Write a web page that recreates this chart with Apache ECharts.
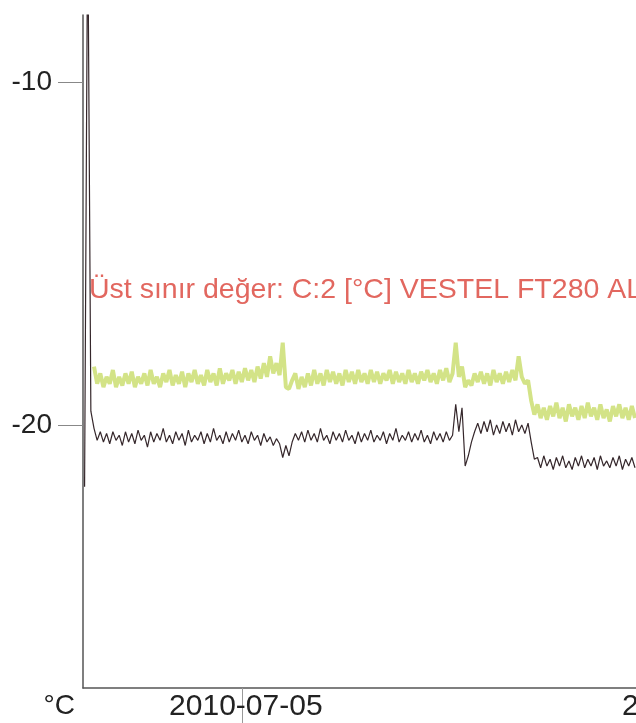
<!DOCTYPE html>
<html>
<head>
<meta charset="utf-8">
<script src="https://cdn.jsdelivr.net/npm/echarts@6/dist/echarts.min.js"></script>
<style>
html, body { margin: 0; padding: 0; background: #fff; overflow: hidden; }
#main { width: 636px; height: 723px; }
</style>
</head>
<body>
<div id="main"></div>
<script>
// logger samples, one every 10 minutes from 2010-07-04 15:40
var startTime = new Date(2010, 6, 4, 15, 40).getTime();
var stepMs = 10 * 60 * 1000;
var dateTicks = [new Date(2010, 6, 5).getTime(), new Date(2010, 6, 6).getTime()];
var yTicks = [-20, -10];
var limitText = 'Üst sınır değer: C:2 [°C] VESTEL FT280 AL';

var darkValues = [
  -21.8, -5.0, -19.6,
  -20.1, -20.45, -20.2, -20.5, -20.25, -20.55, -20.2, -20.45, -20.3, -20.6, -20.2, -20.5,
  -20.25, -20.55, -20.15, -20.45, -20.3, -20.65, -20.2, -20.5, -20.25, -20.45, -20.1, -20.5,
  -20.3, -20.55, -20.2, -20.45, -20.25, -20.6, -20.15, -20.5, -20.3, -20.45, -20.2, -20.55,
  -20.25, -20.5, -20.1, -20.45, -20.3, -20.55, -20.2, -20.5, -20.25, -20.45, -20.15, -20.5,
  -20.3, -20.55, -20.2, -20.45, -20.3, -20.6, -20.25, -20.5, -20.35, -20.6, -20.4, -20.55,
  -20.95, -20.6, -20.9, -20.5,
  -20.25, -20.45, -20.2, -20.5, -20.15, -20.45, -20.25, -20.5, -20.1, -20.45, -20.3, -20.55,
  -20.2, -20.45, -20.25, -20.5, -20.15, -20.45, -20.3, -20.55, -20.2, -20.5, -20.25, -20.45,
  -20.15, -20.5, -20.3, -20.45, -20.2, -20.55, -20.25, -20.45, -20.1, -20.5, -20.3, -20.45,
  -20.2, -20.5, -20.25, -20.45, -20.15, -20.5, -20.3, -20.55, -20.2, -20.45, -20.25, -20.5, -20.2, -20.45, -20.3,
  -19.4, -20.2, -19.5, -21.2, -20.9, -20.5, -20.2,
  -19.95, -20.25, -19.9, -20.2, -19.85, -20.3, -20.0, -20.25, -19.9, -20.2, -19.95, -20.3, -19.85, -20.2, -20.0, -20.25, -19.95,
  -20.5, -21.0,
  -20.95, -21.25, -20.9, -21.2, -21.0, -21.3, -20.95, -21.2, -20.9, -21.25, -21.05, -21.3, -20.95, -21.2, -20.9, -21.25,
  -21.0, -21.2, -20.95, -21.3, -20.9, -21.2, -21.05, -21.25, -20.95, -21.2, -20.9, -21.3, -21.0, -21.2, -20.95, -21.25
];

var greenValues = [
  null, null, null,
  -18.3, -18.8, -18.5, -18.9, -18.6, -18.8, -18.4, -18.9, -18.6, -18.85, -18.5, -18.8,
  -18.45, -18.9, -18.6, -18.8, -18.5, -18.85, -18.4, -18.8, -18.6, -18.9, -18.5, -18.75,
  -18.4, -18.85, -18.55, -18.8, -18.45, -18.9, -18.5, -18.75, -18.4, -18.8, -18.55, -18.85,
  -18.4, -18.75, -18.5, -18.85, -18.35, -18.8, -18.5, -18.7, -18.4, -18.8, -18.45, -18.75,
  -18.35, -18.7, -18.4, -18.75, -18.3, -18.65, -18.2, -18.6, -18.0, -18.5, -18.2, -18.55,
  -17.6, -18.9, -18.95, -18.7,
  -18.5, -18.95, -18.6, -18.9, -18.5, -18.85, -18.4, -18.8, -18.5, -18.85, -18.4, -18.75,
  -18.45, -18.8, -18.5, -18.85, -18.4, -18.75, -18.45, -18.8, -18.4, -18.75, -18.5, -18.8,
  -18.4, -18.75, -18.45, -18.8, -18.5, -18.7, -18.4, -18.8, -18.45, -18.75, -18.5, -18.8,
  -18.4, -18.75, -18.5, -18.8, -18.45, -18.7, -18.4, -18.75, -18.5, -18.8, -18.4, -18.7, -18.35, -18.75, -18.5,
  -17.6, -18.6, -18.3, -18.9, -18.7, -18.85, -18.5,
  -18.75, -18.45, -18.8, -18.5, -18.85, -18.4, -18.75, -18.5, -18.8, -18.45, -18.75, -18.4, -18.7, -18.0, -18.6, -18.8, -18.7,
  -19.3, -19.7,
  -19.4, -19.8, -19.5, -19.85, -19.45, -19.75, -19.35, -19.8, -19.5, -19.9, -19.4, -19.75, -19.5, -19.85, -19.45, -19.8,
  -19.35, -19.75, -19.5, -19.85, -19.4, -19.8, -19.55, -19.9, -19.45, -19.75, -19.4, -19.8, -19.5, -19.85, -19.45, -19.8
];

function toPairs(values) {
  return values.map(function (v, i) {
    return [startTime + i * stepMs, v];
  });
}

var font = '"Liberation Sans", Arial, sans-serif';

var chartDom = document.getElementById('main');
var myChart = echarts.init(chartDom);
var option;

option = {
  animation: false,
  backgroundColor: '#fff',
  title: {
    text: limitText,
    left: 84,
    top: 271,
    textStyle: {
      fontFamily: font,
      fontSize: 28.5,
      fontWeight: 'normal',
      color: '#e2675f'
    }
  },
  grid: {
    left: 83,
    top: 15,
    right: -172,
    bottom: 35,
    containLabel: false,
    outerBoundsMode: 'none'
  },
  xAxis: {
    type: 'time',
    min: new Date(2010, 6, 4, 15, 35).getTime(),
    max: new Date(2010, 6, 6, 6, 0).getTime(),
    splitLine: { show: false },
    axisLine: { lineStyle: { color: '#555', width: 1.5 } },
    axisTick: {
      customValues: dateTicks,
      length: 35,
      lineStyle: { color: '#999', width: 1 }
    },
    axisLabel: {
      customValues: dateTicks,
      formatter: '{yyyy}-{MM}-{dd}',
      margin: 4,
      padding: [0, 0, 0, 8],
      fontFamily: font,
      fontSize: 30,
      color: '#222'
    }
  },
  yAxis: {
    type: 'value',
    min: -27.67,
    max: -8.05,
    name: '°C',
    nameLocation: 'start',
    nameGap: 4,
    nameTextStyle: {
      fontFamily: font,
      fontSize: 28,
      color: '#222',
      align: 'right',
      verticalAlign: 'top',
      padding: [0, 8, 0, 0]
    },
    splitLine: { show: false },
    axisLine: { show: true, lineStyle: { color: '#555', width: 1.5 } },
    axisTick: {
      show: true,
      customValues: yTicks,
      length: 25,
      lineStyle: { color: '#888', width: 1 }
    },
    axisLabel: {
      customValues: yTicks,
      margin: 31,
      padding: [0, 0, 20, 0],
      fontFamily: font,
      fontSize: 28,
      color: '#222'
    }
  },
  series: [
    {
      name: 'C:1',
      type: 'line',
      showSymbol: false,
      data: toPairs(greenValues),
      lineStyle: { color: '#d3e387', width: 4 },
      itemStyle: { color: '#d3e387' }
    },
    {
      name: 'C:2',
      type: 'line',
      showSymbol: false,
      data: toPairs(darkValues),
      lineStyle: { color: '#35272b', width: 1.2 },
      itemStyle: { color: '#35272b' }
    }
  ]
};

option && myChart.setOption(option);
</script>
</body>
</html>
